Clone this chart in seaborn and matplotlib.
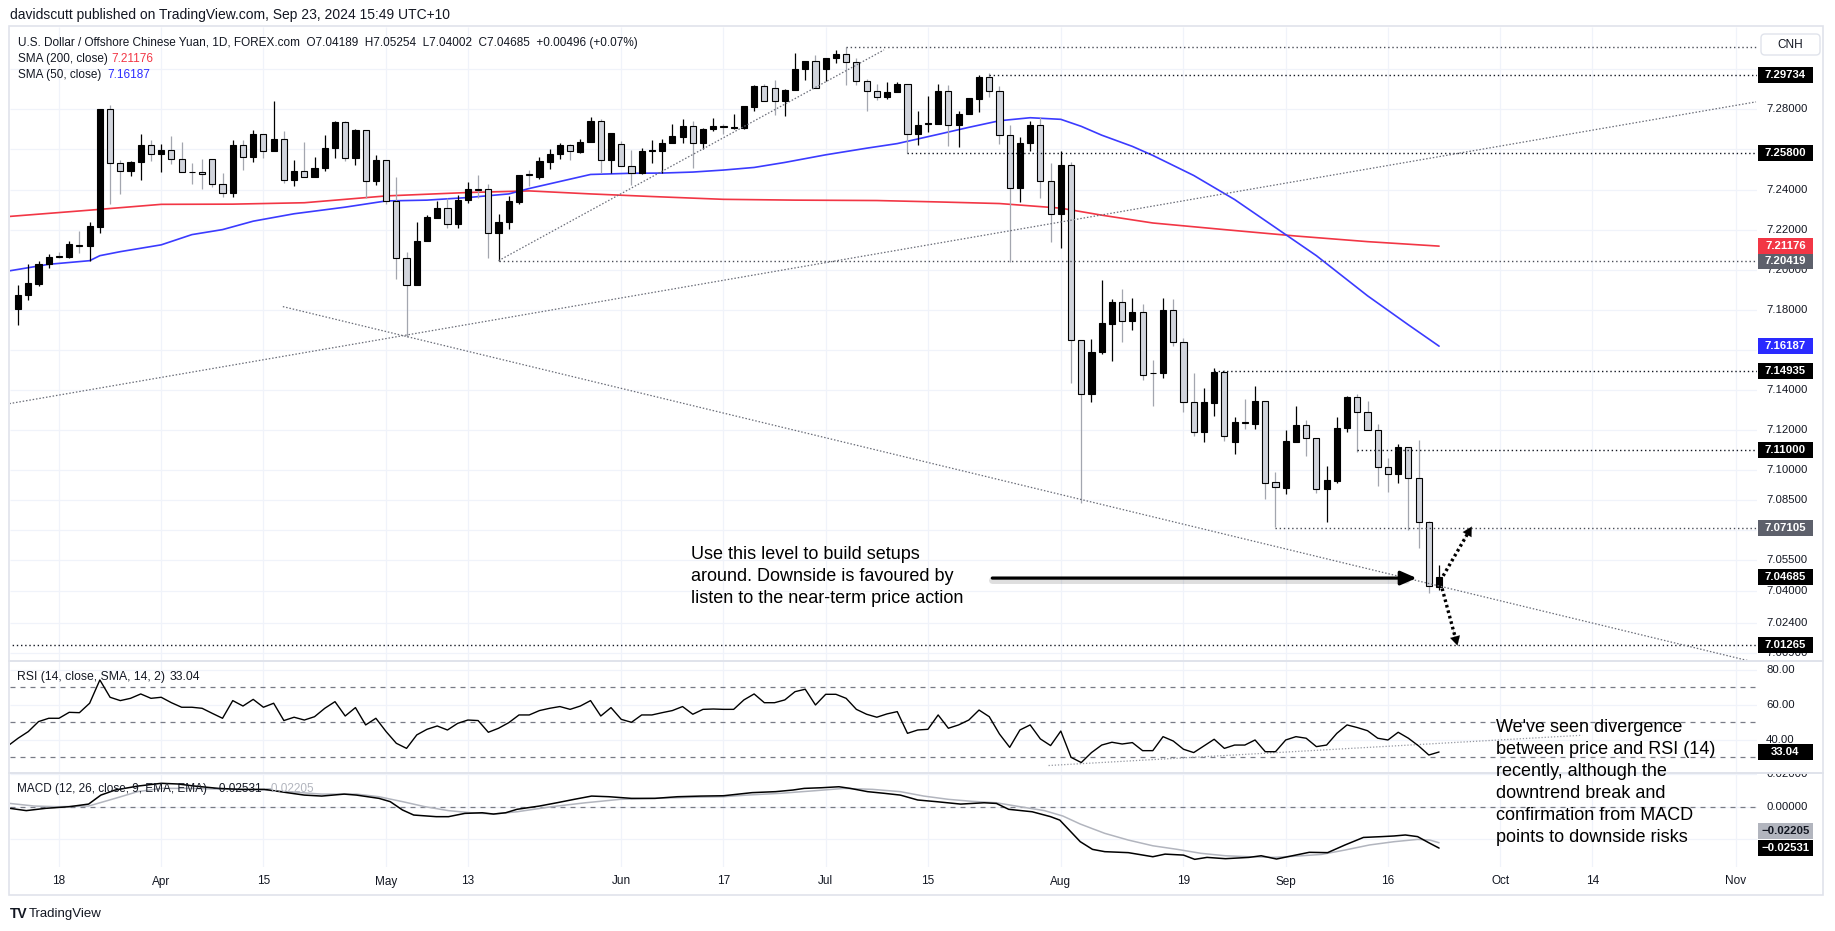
import numpy as np
import matplotlib
matplotlib.use("Agg")
import matplotlib.pyplot as plt
import seaborn as sns
from matplotlib.patches import Rectangle, FancyBboxPatch
from matplotlib.lines import Line2D
import matplotlib.transforms as mtransforms

# ---------------- data ----------------
opens = [7.1802, 7.1872, 7.1931, 7.2029, 7.2066, 7.2062, 7.2124, 7.2119, 7.2213, 7.2800,
         7.2533, 7.2492, 7.2536, 7.2624, 7.2578, 7.2598, 7.2550, 7.2488, 7.2487, 7.2553,
         7.2427, 7.2382, 7.2624, 7.2561, 7.2679, 7.2590, 7.2654, 7.2447, 7.2494, 7.2461,
         7.2506, 7.2608, 7.2736, 7.2558, 7.2696, 7.2444, 7.2548, 7.2343, 7.2060, 7.1923,
         7.2141, 7.2259, 7.2306, 7.2229, 7.2346, 7.2403, 7.2402, 7.2183, 7.2239, 7.2339,
         7.2475, 7.2464, 7.2536, 7.2578, 7.2624, 7.2587, 7.2637, 7.2741, 7.2548, 7.2629,
         7.2518, 7.2481, 7.2590, 7.2592, 7.2632, 7.2662, 7.2719, 7.2632, 7.2703, 7.2716,
         7.2708, 7.2708, 7.2813, 7.2918, 7.2906, 7.2839, 7.2894, 7.3002, 7.3039, 7.3002,
         7.3054, 7.3074, 7.3035, 7.2939, 7.2889, 7.2859, 7.2886, 7.2928, 7.2679, 7.2728,
         7.2729, 7.2892, 7.2724, 7.2775, 7.2852, 7.2961, 7.2889, 7.2674, 7.2407, 7.2632,
         7.2724, 7.2444, 7.2276, 7.2523, 7.1650, 7.1380, 7.1590, 7.1730, 7.1839, 7.1746,
         7.1788, 7.1486, 7.1486, 7.1799, 7.1638, 7.1339, 7.1192, 7.1337, 7.1488, 7.1142,
         7.1240, 7.1231, 7.1345, 7.0940, 7.0913, 7.1142, 7.1226, 7.1159, 7.0905, 7.0946,
         7.1209, 7.1364, 7.1292, 7.1201, 7.1014, 7.0980, 7.1118, 7.0960, 7.0740, 7.04189]
highs = [7.1923, 7.2030, 7.2044, 7.2077, 7.2087, 7.2145, 7.2192, 7.2239, 7.2802, 7.2822,
         7.2548, 7.2541, 7.2676, 7.2649, 7.2629, 7.2666, 7.2635, 7.2533, 7.2553, 7.2553,
         7.2482, 7.2645, 7.2645, 7.2696, 7.2679, 7.2839, 7.2692, 7.2545, 7.2637, 7.2561,
         7.2671, 7.2741, 7.2741, 7.2704, 7.2699, 7.2573, 7.2548, 7.2461, 7.2087, 7.2237,
         7.2272, 7.2343, 7.2356, 7.2373, 7.2439, 7.2474, 7.2427, 7.2276, 7.2368, 7.2474,
         7.2499, 7.2561, 7.2600, 7.2634, 7.2629, 7.2650, 7.2760, 7.2750, 7.2684, 7.2640,
         7.2595, 7.2608, 7.2649, 7.2654, 7.2729, 7.2751, 7.2741, 7.2708, 7.2755, 7.2729,
         7.2776, 7.2817, 7.2923, 7.2928, 7.2948, 7.2901, 7.3079, 7.3039, 7.3071, 7.3054,
         7.3096, 7.3113, 7.3054, 7.2951, 7.2928, 7.2934, 7.2936, 7.2928, 7.2792, 7.2867,
         7.2928, 7.2923, 7.2792, 7.2855, 7.2973, 7.2982, 7.2918, 7.2721, 7.2662, 7.2741,
         7.2763, 7.2533, 7.2590, 7.2536, 7.1650, 7.1654, 7.1948, 7.1852, 7.1903, 7.1859,
         7.1830, 7.1548, 7.1857, 7.1852, 7.1658, 7.1487, 7.1408, 7.1508, 7.1500, 7.1264,
         7.1355, 7.1420, 7.1345, 7.0990, 7.1201, 7.1320, 7.1251, 7.1159, 7.1021, 7.1264,
         7.1370, 7.1378, 7.1347, 7.1231, 7.1060, 7.1130, 7.1118, 7.1151, 7.0747, 7.05254]
lows = [7.1724, 7.1849, 7.1919, 7.2007, 7.2057, 7.2057, 7.2082, 7.2045, 7.2183, 7.2329,
        7.2380, 7.2469, 7.2447, 7.2541, 7.2486, 7.2528, 7.2487, 7.2427, 7.2405, 7.2413,
        7.2363, 7.2363, 7.2499, 7.2539, 7.2556, 7.2590, 7.2430, 7.2418, 7.2461, 7.2461,
        7.2494, 7.2558, 7.2541, 7.2524, 7.2356, 7.2424, 7.2326, 7.1956, 7.1662, 7.1923,
        7.2141, 7.2259, 7.2208, 7.2208, 7.2334, 7.2360, 7.2057, 7.2045, 7.2203, 7.2326,
        7.2418, 7.2452, 7.2503, 7.2550, 7.2545, 7.2583, 7.2637, 7.2481, 7.2482, 7.2518,
        7.2422, 7.2477, 7.2531, 7.2481, 7.2632, 7.2632, 7.2506, 7.2600, 7.2692, 7.2676,
        7.2704, 7.2704, 7.2793, 7.2839, 7.2771, 7.2766, 7.2894, 7.2948, 7.2906, 7.2943,
        7.3032, 7.2923, 7.2923, 7.2793, 7.2847, 7.2852, 7.2886, 7.2583, 7.2620, 7.2687,
        7.2729, 7.2617, 7.2612, 7.2775, 7.2785, 7.2859, 7.2629, 7.2040, 7.2339, 7.2592,
        7.2360, 7.2138, 7.2108, 7.1435, 7.0834, 7.1338, 7.1578, 7.1545, 7.1640, 7.1701,
        7.1452, 7.1320, 7.1458, 7.1621, 7.1292, 7.1171, 7.1142, 7.1270, 7.1147, 7.1081,
        7.1206, 7.1206, 7.0856, 7.0718, 7.0880, 7.1142, 7.1073, 7.0885, 7.0743, 7.0938,
        7.1192, 7.1089, 7.1201, 7.0923, 7.0893, 7.0938, 7.0702, 7.0614, 7.0389, 7.04002]
closes = [7.1872, 7.1934, 7.2030, 7.2064, 7.2063, 7.2126, 7.2120, 7.2217, 7.2800, 7.2533,
          7.2492, 7.2539, 7.2624, 7.2578, 7.2598, 7.2550, 7.2487, 7.2486, 7.2477, 7.2427,
          7.2382, 7.2624, 7.2563, 7.2679, 7.2590, 7.2654, 7.2449, 7.2494, 7.2461, 7.2508,
          7.2608, 7.2736, 7.2558, 7.2696, 7.2444, 7.2548, 7.2343, 7.2060, 7.1923, 7.2145,
          7.2262, 7.2306, 7.2230, 7.2346, 7.2402, 7.2401, 7.2183, 7.2239, 7.2343, 7.2474,
          7.2473, 7.2540, 7.2578, 7.2624, 7.2590, 7.2637, 7.2741, 7.2548, 7.2684, 7.2518,
          7.2481, 7.2590, 7.2595, 7.2634, 7.2666, 7.2719, 7.2632, 7.2704, 7.2716, 7.2714,
          7.2710, 7.2817, 7.2918, 7.2839, 7.2839, 7.2897, 7.3003, 7.3039, 7.2906, 7.3054,
          7.3074, 7.3035, 7.2939, 7.2889, 7.2861, 7.2886, 7.2928, 7.2679, 7.2724, 7.2731,
          7.2892, 7.2724, 7.2776, 7.2855, 7.2961, 7.2889, 7.2674, 7.2407, 7.2634, 7.2724,
          7.2444, 7.2276, 7.2523, 7.1650, 7.1380, 7.1590, 7.1733, 7.1839, 7.1746, 7.1788,
          7.1477, 7.1484, 7.1799, 7.1638, 7.1339, 7.1192, 7.1339, 7.1488, 7.1171, 7.1239,
          7.1238, 7.1345, 7.0938, 7.0915, 7.1146, 7.1226, 7.1159, 7.0905, 7.0951, 7.1209,
          7.1364, 7.1292, 7.1201, 7.1014, 7.0980, 7.1118, 7.0960, 7.0740, 7.0423, 7.04685]

sma200_days = [-1, 8, 14, 21, 28, 36, 44, 50, 56, 62, 69, 76, 84, 90, 96, 102, 106, 111, 118, 125, 132, 139]
sma200_vals = [7.2265, 7.2301, 7.2326, 7.2327, 7.2334, 7.2368, 7.2385, 7.2393, 7.2378, 7.2365, 7.2351,
               7.2347, 7.2345, 7.2338, 7.2330, 7.2307, 7.2272, 7.2233, 7.2200, 7.2168, 7.2140, 7.21176]
sma50_days = [-1, 3, 7, 8, 10, 14, 17, 20, 23, 27, 32, 36, 40, 44, 48, 50, 53, 56, 60, 63, 66, 69, 72,
              75, 79, 83, 86, 90, 93, 96, 99, 102, 104, 106, 109, 111, 115, 119, 123, 127, 132, 136, 139]
sma50_vals = [7.1993, 7.2027, 7.2045, 7.2070, 7.2090, 7.2124, 7.2175, 7.2200, 7.2242, 7.2279, 7.2312,
              7.2343, 7.2347, 7.2360, 7.2378, 7.2405, 7.2440, 7.2475, 7.2481, 7.2482, 7.2487, 7.2497,
              7.2510, 7.2535, 7.2573, 7.2606, 7.2629, 7.2675, 7.2710, 7.2743, 7.2758, 7.2750, 7.2715,
              7.2671, 7.2615, 7.2570, 7.2470, 7.2350, 7.2210, 7.2070, 7.1870, 7.1725, 7.16187]

rsi_vals = [36.5, 40.9, 44.7, 50.4, 52.3, 52.3, 55.7, 55.5, 60.9, 74.2, 64.3,
            62.4, 63.7, 66.2, 63.7, 64.3, 61.2, 58.6, 58.6, 58.0, 55.1,
            52.3, 62.4, 59.3, 63.1, 58.6, 60.9, 51.0, 52.9, 51.3, 53.2,
            58.0, 61.8, 53.6, 58.4, 48.5, 52.3, 44.7, 38.0, 35.1, 42.8,
            46.0, 47.9, 45.6, 49.4, 51.3, 51.0, 44.3, 46.6, 49.8, 54.2,
            54.2, 56.7, 58.0, 59.0, 57.4, 59.3, 62.4, 53.6, 58.4, 51.7,
            50.0, 54.2, 54.2, 55.5, 56.7, 59.0, 54.6, 57.4, 57.6, 57.4,
            57.4, 62.8, 66.2, 61.2, 61.2, 62.8, 67.5, 68.9, 59.9, 66.0,
            66.0, 63.7, 57.4, 54.6, 52.9, 54.8, 56.1, 43.7, 45.6, 46.0,
            54.2, 46.6, 48.5, 51.3, 57.0, 53.2, 43.3, 35.7, 45.6, 48.5,
            40.5, 36.7, 45.0, 30.0, 27.0, 32.7, 37.0, 38.6, 37.6, 38.4,
            33.8, 33.8, 41.8, 39.3, 34.6, 32.7, 36.5, 40.3, 35.1, 37.0,
            37.0, 39.9, 33.2, 33.2, 39.9, 41.8, 40.9, 36.1, 37.0, 43.7,
            48.5, 47.0, 45.2, 40.9, 39.9, 44.3, 40.9, 36.5, 31.3, 33.04]
rsi_days = list(range(-1, len(rsi_vals) - 1))

macd_days = [-0.8, 0.8, 2.7, 5.0, 6.9, 8.1, 9.5, 11.7, 14.0, 15.6, 17.3, 19.6, 21.8, 24.1, 26.3, 28.0,
             29.7, 31.9, 33.1, 35.3, 36.4, 37.6, 38.7, 40.9, 42.1, 43.7, 45.4, 46.5, 47.7, 48.8, 51.0,
             52.7, 54.4, 56.1, 57.8, 60.0, 62.3, 64.5, 66.8, 69.0, 71.8, 74.1, 75.8, 76.9, 78.6, 80.3,
             81.4, 83.1, 84.7, 86.3, 88.0, 89.8, 92.2, 94.5, 95.7, 96.9, 99.2, 101.0, 101.9, 103.9,
             105.1, 106.3, 108.6, 111.0, 112.2, 114.0, 115.1, 116.3, 118.1, 120.4, 121.6, 123.1,
             124.5, 126.3, 128.1, 129.8, 131.6, 133.4, 134.6, 135.7, 136.9, 138.1, 139.0]
macd_vals = [-0.0010, -0.0024, -0.0010, 0.0000, 0.0016, 0.0071, 0.0102, 0.0126, 0.0143, 0.0139, 0.0126,
             0.0112, 0.0106, 0.0106, 0.0086, 0.0071, 0.0065, 0.0077, 0.0071, 0.0051, 0.0031, -0.0020,
             -0.0051, -0.0061, -0.0061, -0.0041, -0.0037, -0.0045, -0.0037, -0.0016, 0.0004, 0.0024,
             0.0045, 0.0065, 0.0061, 0.0051, 0.0051, 0.0061, 0.0065, 0.0067, 0.0086, 0.0092, 0.0102,
             0.0112, 0.0116, 0.0122, 0.0112, 0.0092, 0.0082, 0.0071, 0.0041, 0.0031, 0.0016, 0.0024,
             0.0020, -0.0016, -0.0031, -0.0061, -0.0082, -0.0214, -0.0261, -0.0275, -0.0281, -0.0306,
             -0.0290, -0.0296, -0.0322, -0.0310, -0.0318, -0.0310, -0.0300, -0.0320, -0.0302, -0.0279,
             -0.0281, -0.0234, -0.0188, -0.0183, -0.0179, -0.0173, -0.0183, -0.0224, -0.02531]
signal_days = [-0.8, 1.6, 3.8, 6.9, 9.5, 11.7, 14.0, 16.8, 20.7, 24.1, 26.3, 29.7, 33.1, 35.3, 37.6,
               39.8, 42.1, 44.3, 46.5, 48.8, 52.2, 55.5, 58.9, 62.3, 65.6, 69.0, 71.3, 74.6, 78.0, 80.8,
               83.6, 86.3, 88.6, 91.0, 93.3, 95.7, 98.0, 100.4, 102.2, 103.9, 106.3, 108.6, 111.0,
               113.4, 115.7, 118.1, 120.4, 122.8, 125.1, 127.5, 129.8, 132.2, 134.6, 136.9, 138.1, 139.0]
signal_vals = [0.0020, 0.0004, 0.0000, 0.0004, 0.0051, 0.0092, 0.0112, 0.0112, 0.0106, 0.0102, 0.0092,
               0.0077, 0.0077, 0.0061, 0.0031, 0.0000, -0.0024, -0.0037, -0.0045, -0.0031, 0.0000,
               0.0024, 0.0045, 0.0051, 0.0057, 0.0061, 0.0071, 0.0082, 0.0098, 0.0112, 0.0106, 0.0092,
               0.0065, 0.0045, 0.0033, 0.0024, 0.0000, -0.0024, -0.0057, -0.0106, -0.0163, -0.0204,
               -0.0239, -0.0261, -0.0285, -0.0300, -0.0306, -0.0310, -0.0302, -0.0292, -0.0265,
               -0.0234, -0.0214, -0.0200, -0.0204, -0.02205]

date_tick_days = [4, 14, 24, 36, 44, 59, 69, 79, 89, 102, 114, 124, 134, 145, 154, 168]
date_tick_labels = ["18", "Apr", "15", "May", "13", "Jun", "17", "Jul", "15", "Aug", "19", "Sep",
                    "16", "Oct", "14", "Nov"]
price_grid = [7.30, 7.28, 7.26, 7.24, 7.22, 7.20, 7.18, 7.16, 7.14, 7.12, 7.10, 7.085, 7.07,
              7.055, 7.04, 7.024, 7.009]
# labels that stay readable (the others are hidden under the level boxes)
price_tick_labels = [7.28, 7.24, 7.22, 7.20, 7.18, 7.14, 7.12, 7.10, 7.085, 7.055, 7.04, 7.024, 7.009]
rsi_ticks = [80, 60, 40]
macd_ticks = [0.02, 0.0, -0.02]

# horizontal levels: (value, start day, colour of label)
levels = [(7.3113, 81, None), (7.29734, 95, "black"), (7.25800, 87, "black"),
          (7.20419, 47, "grey"), (7.14935, 117, "black"), (7.11000, 131, "black"),
          (7.07105, 123, "grey"), (7.01265, -1, "black")]
# trend lines: (day0, price0, day1, price1)
trend_lines = [(-0.85, 7.1332, 170.0, 7.2837), (25.9, 7.1816, 169.4, 7.0048),
               (47.0, 7.2045, 84.7, 7.3096)]
rsi_trend = (100.8, 25.3, 153.0, 42.6)

# ---------------- figure ----------------
W, H = 1835, 931
DPI = 100
sns.set_theme(style="white")
plt.rcParams['font.family'] = ['Liberation Sans', 'DejaVu Sans']

fig = plt.figure(figsize=(W / DPI, H / DPI), dpi=DPI)
fig.patch.set_facecolor("white")

def fx(x):
    return x / W

def fy(y):
    return 1 - y / H

def pane(x0, y0, x1, y1):
    a = fig.add_axes([fx(x0), fy(y1), (x1 - x0) / W, (y1 - y0) / H])
    a.set_axis_off()
    return a

PL, PR, SR = 10, 1757, 1823
Y_MAIN = (27, 661)
Y_RSI = (661, 773)
Y_MACD = (773, 867)
XLIM = (-0.79, 170.1)

ax = pane(PL, Y_MAIN[0], PR, Y_MAIN[1])
axr = pane(PL, Y_RSI[0], PR, Y_RSI[1])
axm = pane(PL, Y_MACD[0], PR, Y_MACD[1])
sx = pane(PR, Y_MAIN[0], SR, Y_MAIN[1])
sr = pane(PR, Y_RSI[0], SR, Y_RSI[1])
sm = pane(PR, Y_MACD[0], SR, Y_MACD[1])

MAIN_YL = (7.00484, 7.32105)
RSI_YL = (21.03, 85.03)
MACD_YL = (-0.03688, 0.02061)
for a, yl in [(ax, MAIN_YL), (axr, RSI_YL), (axm, MACD_YL)]:
    a.set_xlim(*XLIM)
    a.set_ylim(*yl)
for a, yl in [(sx, MAIN_YL), (sr, RSI_YL), (sm, MACD_YL)]:
    a.set_xlim(0, SR - PR)
    a.set_ylim(*yl)

GRID = "#f0f3fa"
for a in (ax, axr, axm):
    a.vlines(date_tick_days, *a.get_ylim(), color=GRID, lw=0.9, zorder=0)
ax.hlines(price_grid, *XLIM, color=GRID, lw=0.9, zorder=0)
axr.hlines(rsi_ticks, *XLIM, color=GRID, lw=0.9, zorder=0)
axm.hlines(macd_ticks, *XLIM, color=GRID, lw=0.9, zorder=0)

# ---------------- candles ----------------
O = np.array(opens); Hh = np.array(highs); L = np.array(lows); C = np.array(closes)
days = np.arange(len(O))
up = C >= O
mid = (O + C) / 2
bh = np.maximum(np.abs(C - O), 0.0004)
bb = mid - bh / 2
ax.vlines(days[up], L[up], Hh[up], color="black", lw=0.9, zorder=3)
ax.vlines(days[~up], L[~up], Hh[~up], color="#a3a6af", lw=0.9, zorder=3)
ax.bar(days[up], bh[up], bottom=bb[up], width=0.6, color="black", edgecolor="black", lw=0.8, zorder=4)
ax.bar(days[~up], bh[~up], bottom=bb[~up], width=0.6, color="#d1d4dc", edgecolor="black", lw=0.8, zorder=4)

# moving averages
sns.lineplot(x=sma200_days, y=sma200_vals, ax=ax, color="#f23645", lw=1.2, zorder=2, legend=False)
sns.lineplot(x=sma50_days, y=sma50_vals, ax=ax, color="#3b3bff", lw=1.2, zorder=2, legend=False)

# level lines and trend lines
for v, d0, col in levels:
    c = "#4a4d57" if col != "black" else "#131722"
    ax.hlines(v, d0, XLIM[1], color=c, lw=1.0, linestyles=(0, (1, 2)), zorder=5)
for d0, p0, d1, p1 in trend_lines:
    ax.plot([d0, d1], [p0, p1], color="#6a6d78", lw=0.9, ls=(0, (1.2, 1.5)), zorder=5)

# big annotation arrow
yarr = 7.0462
ax.plot([95.3, 135.8], [yarr - 0.0009, yarr - 0.0009], color="black", alpha=0.13, lw=5, zorder=5,
        solid_capstyle="round")
ax.annotate("", xy=(136.8, yarr), xytext=(95.3, yarr),
            arrowprops=dict(arrowstyle="-|>,head_length=0.8,head_width=0.35", color="black", lw=2.3,
                            shrinkA=0, shrinkB=0), zorder=6)
# dotted arrows
for (x0, y0, x1, y1) in [(139.4, 7.0473, 142.2, 7.0719), (139.3, 7.0410, 140.8, 7.0125)]:
    ax.plot([x0, x0 + (x1 - x0) * 0.85], [y0, y0 + (y1 - y0) * 0.85], color="black", lw=2.4,
            ls=(0, (0.8, 0.9)), zorder=6)
    ax.annotate("", xy=(x1, y1), xytext=(x0 + (x1 - x0) * 0.7, y0 + (y1 - y0) * 0.7),
                arrowprops=dict(arrowstyle="-|>,head_length=0.55,head_width=0.3", color="black", lw=0.1,
                                shrinkA=0, shrinkB=0), zorder=6)

# ---------------- RSI ----------------
for lv in (70, 50, 30):
    axr.hlines(lv, *XLIM, color="#787b86", lw=0.9, linestyles=(0, (4, 4)), zorder=1)
sns.lineplot(x=rsi_days, y=rsi_vals, ax=axr, color="black", lw=1.0, zorder=3, legend=False)
axr.plot([rsi_trend[0], rsi_trend[2]], [rsi_trend[1], rsi_trend[3]], color="#9598a1", lw=0.9,
         ls=(0, (1, 1.5)), zorder=2)

# ---------------- MACD ----------------
axm.hlines(0, *XLIM, color="#787b86", lw=0.9, linestyles=(0, (4, 4)), zorder=1)
sns.lineplot(x=signal_days, y=signal_vals, ax=axm, color="#b2b5be", lw=1.1, zorder=2, legend=False)
sns.lineplot(x=macd_days, y=macd_vals, ax=axm, color="black", lw=1.1, zorder=3, legend=False)

for a in (ax, axr, axm):
    a.set_xlim(*XLIM)
    a.set_xlabel(""); a.set_ylabel("")

# ---------------- right scales ----------------
TXT = "#131722"
def ticks(sa, vals, fmt):
    for v in vals:
        sa.text(9, v, fmt.format(v), fontsize=8.2, color=TXT, va="center", ha="left", clip_on=True)

def box(sa, v, txt, fc, tc, ppu, dy=0.0):
    h = 16 / ppu
    vc = v + dy / ppu
    sa.add_patch(Rectangle((1, vc - h / 2), 55, h, fc=fc, ec="none", zorder=5))
    sa.text(28.5, vc, txt, color=tc, ha="center", va="center", fontsize=8.2, fontweight="bold", zorder=6)

PPU_MAIN = (Y_MAIN[1] - Y_MAIN[0]) / (MAIN_YL[1] - MAIN_YL[0])
PPU_RSI = (Y_RSI[1] - Y_RSI[0]) / (RSI_YL[1] - RSI_YL[0])
PPU_MACD = (Y_MACD[1] - Y_MACD[0]) / (MACD_YL[1] - MACD_YL[0])

ticks(sx, price_tick_labels, "{:.5f}")
for v, d0, col in levels[1:]:
    box(sx, v, f"{v:.5f}", "black" if col == "black" else "#5d606b", "white", PPU_MAIN)
box(sx, 7.21176, "7.21176", "#f23645", "white", PPU_MAIN)
box(sx, 7.04685, "7.04685", "black", "white", PPU_MAIN)
box(sx, 7.16187, "7.16187", "#2a2aff", "white", PPU_MAIN)

ticks(sr, rsi_ticks, "{:.2f}")
box(sr, 33.04, "33.04", "black", "white", PPU_RSI)
ticks(sm, macd_ticks[:2], "{:.5f}")
box(sm, -0.02205, "\u22120.02205", "#b2b5be", TXT, PPU_MACD, dy=12)
box(sm, -0.02531, "\u22120.02531", "black", "white", PPU_MACD)

# CNH box
fig.add_artist(FancyBboxPatch((1761, H - 55), 59, 21, boxstyle="round,pad=0,rounding_size=4",
                              fc="white", ec="#e0e3eb", lw=1.0, transform=mtransforms.IdentityTransform()))
fig.text(fx(1790.5), fy(44.5), "CNH", fontsize=8.5, color=TXT, ha="center", va="center")

# frame and separators
fig.add_artist(Rectangle((fx(9), fy(895)), (1823 - 9) / W, (895 - 26) / H, fill=False, ec="#e0e3eb",
                         lw=1.2, transform=fig.transFigure))
for yy in (Y_RSI[0], Y_MACD[0]):
    fig.add_artist(Line2D([fx(9), fx(1823)], [fy(yy), fy(yy)], color="#e0e3eb", lw=1.4,
                          transform=fig.transFigure))

# date labels
for d, lab in zip(date_tick_days, date_tick_labels):
    xpx = PL + (d - XLIM[0]) / (XLIM[1] - XLIM[0]) * (PR - PL)
    fig.text(fx(xpx), fy(881.5), lab, fontsize=8.5, color=TXT, ha="center", va="center")

# texts
fig.text(fx(9.8), fy(15), "davidscutt published on TradingView.com, Sep 23, 2024 15:49 UTC+10",
         fontsize=10, color=TXT, va="center")
fig.text(fx(18), fy(43.3), "U.S. Dollar / Offshore Chinese Yuan, 1D, FOREX.com  O7.04189  H7.05254  "
         "L7.04002  C7.04685  +0.00496 (+0.07%)", fontsize=8.5, color=TXT, va="center")
fig.text(fx(18), fy(58.8), "SMA (200, close)", fontsize=8.5, color=TXT, va="center")
fig.text(fx(111.6), fy(58.8), "7.21176", fontsize=8.5, color="#f23645", va="center")
fig.text(fx(18), fy(75), "SMA (50, close)", fontsize=8.5, color=TXT, va="center")
fig.text(fx(107), fy(75), "7.16187", fontsize=8.5, color="#2a2aff", va="center")
fig.text(fx(17), fy(677), "RSI (14, close, SMA, 14, 2)", fontsize=8.8, color=TXT, va="center")
fig.text(fx(170), fy(677), "33.04", fontsize=8.8, color=TXT, va="center")
fig.text(fx(17), fy(789.3), "MACD (12, 26, close, 9, EMA, EMA)", fontsize=8.5, color=TXT, va="center")
fig.text(fx(212), fy(789.3), "\u22120.02531", fontsize=8.5, color=TXT, va="center")
fig.text(fx(264), fy(789.3), "\u22120.02205", fontsize=8.5, color="#b2b5be", va="center")

left_note = ["Use this level to build setups", "around. Downside is favoured by",
             "listen to the near-term price action"]
for k, line in enumerate(left_note):
    fig.text(fx(690.5), fy(554.7 + 22 * k), line, fontsize=13, color="black", va="center", zorder=10)
right_note = ["We've seen divergence", "between price and RSI (14)", "recently, although the",
              "downtrend break and", "confirmation from MACD", "points to downside risks"]
for k, line in enumerate(right_note):
    fig.text(fx(1495.6), fy(728 + 22 * k), line, fontsize=13, color="black", va="center", zorder=10)

fig.text(fx(10), fy(914), "TV", fontsize=10, fontweight="heavy", color=TXT, va="center")
fig.text(fx(29), fy(914), "TradingView", fontsize=9.5, color=TXT, va="center")

fig.savefig("out.png", dpi=DPI, facecolor="white")
